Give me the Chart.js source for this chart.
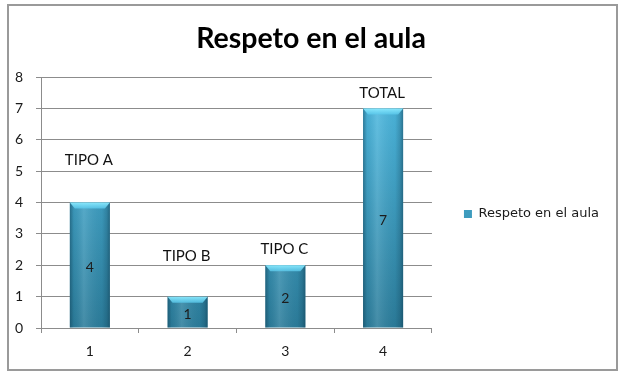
<!DOCTYPE html>
<html><head><meta charset="utf-8">
<script src="https://cdn.jsdelivr.net/npm/chart.js@4/dist/chart.umd.min.js"></script>
<style>html,body{margin:0;padding:0;background:#fff}#wrap{width:625px;height:380px;position:relative}</style>
</head><body><div id="wrap"><canvas id="c" width="625" height="380"></canvas></div>
<script>
const chartTitle = 'Respeto en el aula';
const seriesName = 'Respeto en el aula';
const categories = ['1', '2', '3', '4'];
const values = [4, 1, 2, 7];
const barTags = ['TIPO A', 'TIPO B', 'TIPO C', 'TOTAL'];
const yTicks = [0, 1, 2, 3, 4, 5, 6, 7, 8];

const FONT = 'Lato, "Open Sans", sans-serif';
const GRID = '#8c8c8c';

function barFill(ctx) {
  const ca = ctx.chart.chartArea;
  if (!ca) return '#3a9fc6';
  const g = ctx.chart.ctx.createLinearGradient(0, ca.top, 0, ca.bottom);
  g.addColorStop(0, '#52c0e8');
  g.addColorStop(1, '#2c7d9b');
  return g;
}

const frame = {
  id: 'frame',
  beforeDraw(chart) {
    const c = chart.ctx;
    c.save();
    c.fillStyle = '#fff';
    c.fillRect(0, 0, chart.width, chart.height);
    c.strokeStyle = '#9a9a9a';
    c.lineWidth = 2;
    c.strokeRect(8, 5, 609, 365);
    c.restore();
  }
};

const barShade = {
  id: 'barShade',
  afterDatasetDraw(chart, args, opts) {
    const c = chart.ctx;
    const yScale = chart.scales.y;
    args.meta.data.forEach((bar, i) => {
      const p = bar.getProps(['x', 'y', 'base', 'width'], true);
      const l = p.x - p.width / 2, r = p.x + p.width / 2, t = p.y, b = p.base, w = p.width;
      c.save();
      let g = c.createLinearGradient(l, 0, r, 0);
      g.addColorStop(0, 'rgba(10,50,70,0.45)');
      g.addColorStop(0.1, 'rgba(10,50,70,0.08)');
      g.addColorStop(0.35, 'rgba(255,255,255,0.12)');
      g.addColorStop(0.8, 'rgba(10,50,70,0.06)');
      g.addColorStop(0.92, 'rgba(10,50,70,0.25)');
      g.addColorStop(1, 'rgba(10,50,70,0.5)');
      c.fillStyle = g;
      c.fillRect(l, t, w, b - t);
      const bh = Math.min(6, (b - t) / 3);
      c.beginPath();
      c.moveTo(l, t); c.lineTo(r, t); c.lineTo(r - 5, t + bh); c.lineTo(l + 5, t + bh); c.closePath();
      const tg = c.createLinearGradient(0, t, 0, t + bh);
      tg.addColorStop(0, 'rgba(140,235,255,0.95)');
      tg.addColorStop(1, 'rgba(90,200,235,0.8)');
      c.fillStyle = tg;
      c.fill();
      c.fillStyle = '#1c1c1c';
      c.font = '14px ' + FONT;
      c.textAlign = 'center';
      c.textBaseline = 'middle';
      c.fillText(String(values[i]), p.x, (t + b) / 2 + 2);
      const ty = yScale.getPixelForValue(values[i] + opts.lift[i]);
      c.fillStyle = '#111';
      c.font = '15px ' + FONT;
      c.fillText(barTags[i], p.x - 1, ty);
      c.restore();
    });
  }
};

new Chart(document.getElementById('c'), {
  type: 'bar',
  data: {
    labels: categories,
    datasets: [{
      label: seriesName,
      data: values,
      backgroundColor: barFill,
      borderWidth: 0,
      barPercentage: 0.41,
      categoryPercentage: 1
    }]
  },
  options: {
    responsive: false,
    animation: false,
    layout: { padding: { left: 13, right: 16, top: 5, bottom: 10 } },
    plugins: {
      title: {
        display: true,
        text: chartTitle,
        color: '#000',
        font: { family: FONT, size: 28.5, weight: 'bold', lineHeight: 1.2 },
        padding: { top: 17, bottom: 21 }
      },
      legend: {
        position: 'right',
        fullSize: false,
        maxWidth: 181,
        title: { display: true, text: ' ', font: { size: 10, lineHeight: 1.2 }, padding: { top: 0, bottom: 11 } },
        labels: {
          boxWidth: 8, boxHeight: 8, padding: 32,
          color: '#1a1a1a',
          font: { family: '"DejaVu Sans", sans-serif', size: 13 }
        }
      },
      tooltip: { enabled: false },
      barShade: { lift: [1.34, 1.3, 0.5, 0.48] }
    },
    scales: {
      x: {
        grid: { display: true, drawOnChartArea: false, drawTicks: true, tickLength: 5, color: GRID, offset: true },
        border: { color: GRID, width: 1 },
        ticks: { color: '#1a1a1a', font: { family: FONT, size: 14 }, padding: 10 },
        afterFit(s) { s.height = 42; }
      },
      y: {
        min: 0, max: 8,
        afterBuildTicks(s) { s.ticks = yTicks.map(v => ({ value: v })); },
        grid: { color: GRID, tickLength: 5 },
        border: { color: GRID, width: 1 },
        ticks: { color: '#1a1a1a', font: { family: FONT, size: 14 }, padding: 13 },
        afterFit(s) { s.width = 28; }
      }
    }
  },
  plugins: [frame, barShade]
});
</script>
</body></html>
